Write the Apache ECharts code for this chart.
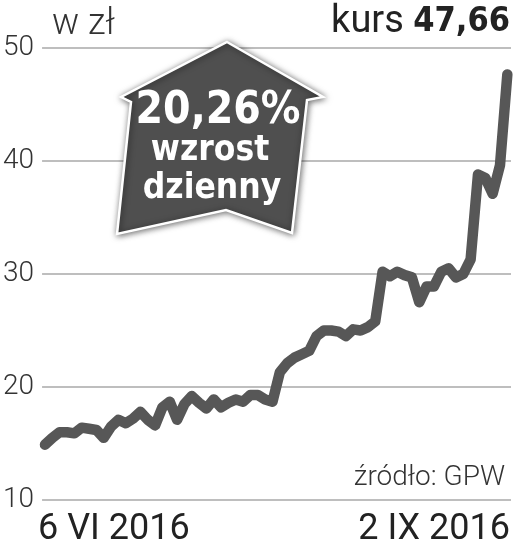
<!DOCTYPE html>
<html>
<head>
<meta charset="utf-8">
<script src="https://cdn.jsdelivr.net/npm/echarts@6/dist/echarts.min.js"></script>
<style>
html,body{margin:0;padding:0;background:#fff;}
#c{width:516px;height:551px;}
</style>
</head>
<body>
<div id="c"></div>
<script>
// Daily closing price, 6 VI 2016 .. 2 IX 2016 (zł)
const values = [14.9,15.5,16.0,16.0,15.9,16.4,16.3,16.2,15.5,16.5,17.1,16.8,17.2,17.8,17.1,16.6,
  18.2,18.7,17.1,18.5,19.2,18.6,18.1,18.9,18.2,18.6,18.9,18.7,19.3,19.3,18.9,18.7,
  21.3,22.1,22.6,22.9,23.2,24.5,25.0,25.0,24.9,24.5,25.1,25.0,25.3,25.8,
  30.2,29.8,30.2,29.9,29.7,27.5,28.9,28.9,30.2,30.5,29.7,30.0,31.3,
  38.8,38.5,37.1,39.63,47.66];
const yTicks = [10, 20, 30, 40, 50];
const xLabels = ['6 VI 2016', '2 IX 2016'];
const unitLabel = 'w zł';
const lastLabel = 'kurs';
const lastValue = '47,66';
const changeLabel = '20,26%';
const changeText = ['wzrost', 'dzienny'];
const sourceLabel = 'źródło: GPW';

const chart = echarts.init(document.getElementById('c'), null, {renderer: 'canvas'});
const light = 'Roboto';
const bold = '"DejaVu Sans Condensed", "DejaVu Sans", sans-serif';

chart.setOption({
  animation: false,
  backgroundColor: '#fff',
  grid: {left: 40, right: 5, top: 48, bottom: 51},
  xAxis: {type: 'value', min: -0.4, max: values.length - 0.5, show: false},
  yAxis: {
    type: 'value', min: yTicks[0], max: yTicks[yTicks.length - 1], interval: 10,
    axisLine: {show: false}, axisTick: {show: false},
    axisLabel: {fontFamily: light, fontWeight: 300, fontSize: 28, color: '#333', margin: 8},
    splitLine: {lineStyle: {color: '#a9a9a9', width: 1.5}}
  },
  series: [{
    type: 'line', symbol: 'none', z: 3,
    data: values.map((v, i) => [i, v]),
    lineStyle: {color: '#575757', width: 10.5, cap: 'round', join: 'round'}
  }],
  graphic: [
    {type: 'polygon', z: 10,
     shape: {points: [[227,42],[323,97],[307,100],[292,233],[226,210],[117,234],[131,102],[121,97]]},
     style: {fill: '#4f4f4f', stroke: '#fff', lineWidth: 2.5, shadowBlur: 6, shadowColor: 'rgba(0,0,0,0.55)', shadowOffsetX: 1, shadowOffsetY: 1}},
    {type: 'text', z: 11, x: 218, y: 112,
     style: {text: changeLabel, font: 'bold 44px ' + bold, fill: '#fff', align: 'center', verticalAlign: 'middle'}},
    {type: 'text', z: 11, x: 210, y: 151,
     style: {text: changeText[0], font: 'bold 35px ' + bold, fill: '#fff', align: 'center', verticalAlign: 'middle'}},
    {type: 'text', z: 11, x: 212, y: 189,
     style: {text: changeText[1], font: 'bold 35px ' + bold, fill: '#fff', align: 'center', verticalAlign: 'middle'}},
    {type: 'text', z: 11, x: 52, y: 25,
     style: {text: unitLabel, font: '300 36px ' + light, fill: '#333', align: 'left', verticalAlign: 'middle'}},
    {type: 'text', z: 11, x: 510, y: 22,
     style: {text: '{a|' + lastLabel + ' }{b|' + lastValue + '}', align: 'right', verticalAlign: 'middle',
       rich: {a: {font: '38px ' + light, fill: '#222'}, b: {font: 'bold 34px ' + bold, fill: '#222'}}}},
    {type: 'text', z: 11, x: 505, y: 478,
     style: {text: sourceLabel, font: '300 28px ' + light, fill: '#333', align: 'right', verticalAlign: 'middle'}},
    {type: 'text', z: 11, x: 38, y: 530,
     style: {text: xLabels[0], font: '36px ' + light, fill: '#222', align: 'left', verticalAlign: 'middle'}},
    {type: 'text', z: 11, x: 510, y: 530,
     style: {text: xLabels[1], font: '36px ' + light, fill: '#222', align: 'right', verticalAlign: 'middle'}}
  ]
});
</script>
</body>
</html>
